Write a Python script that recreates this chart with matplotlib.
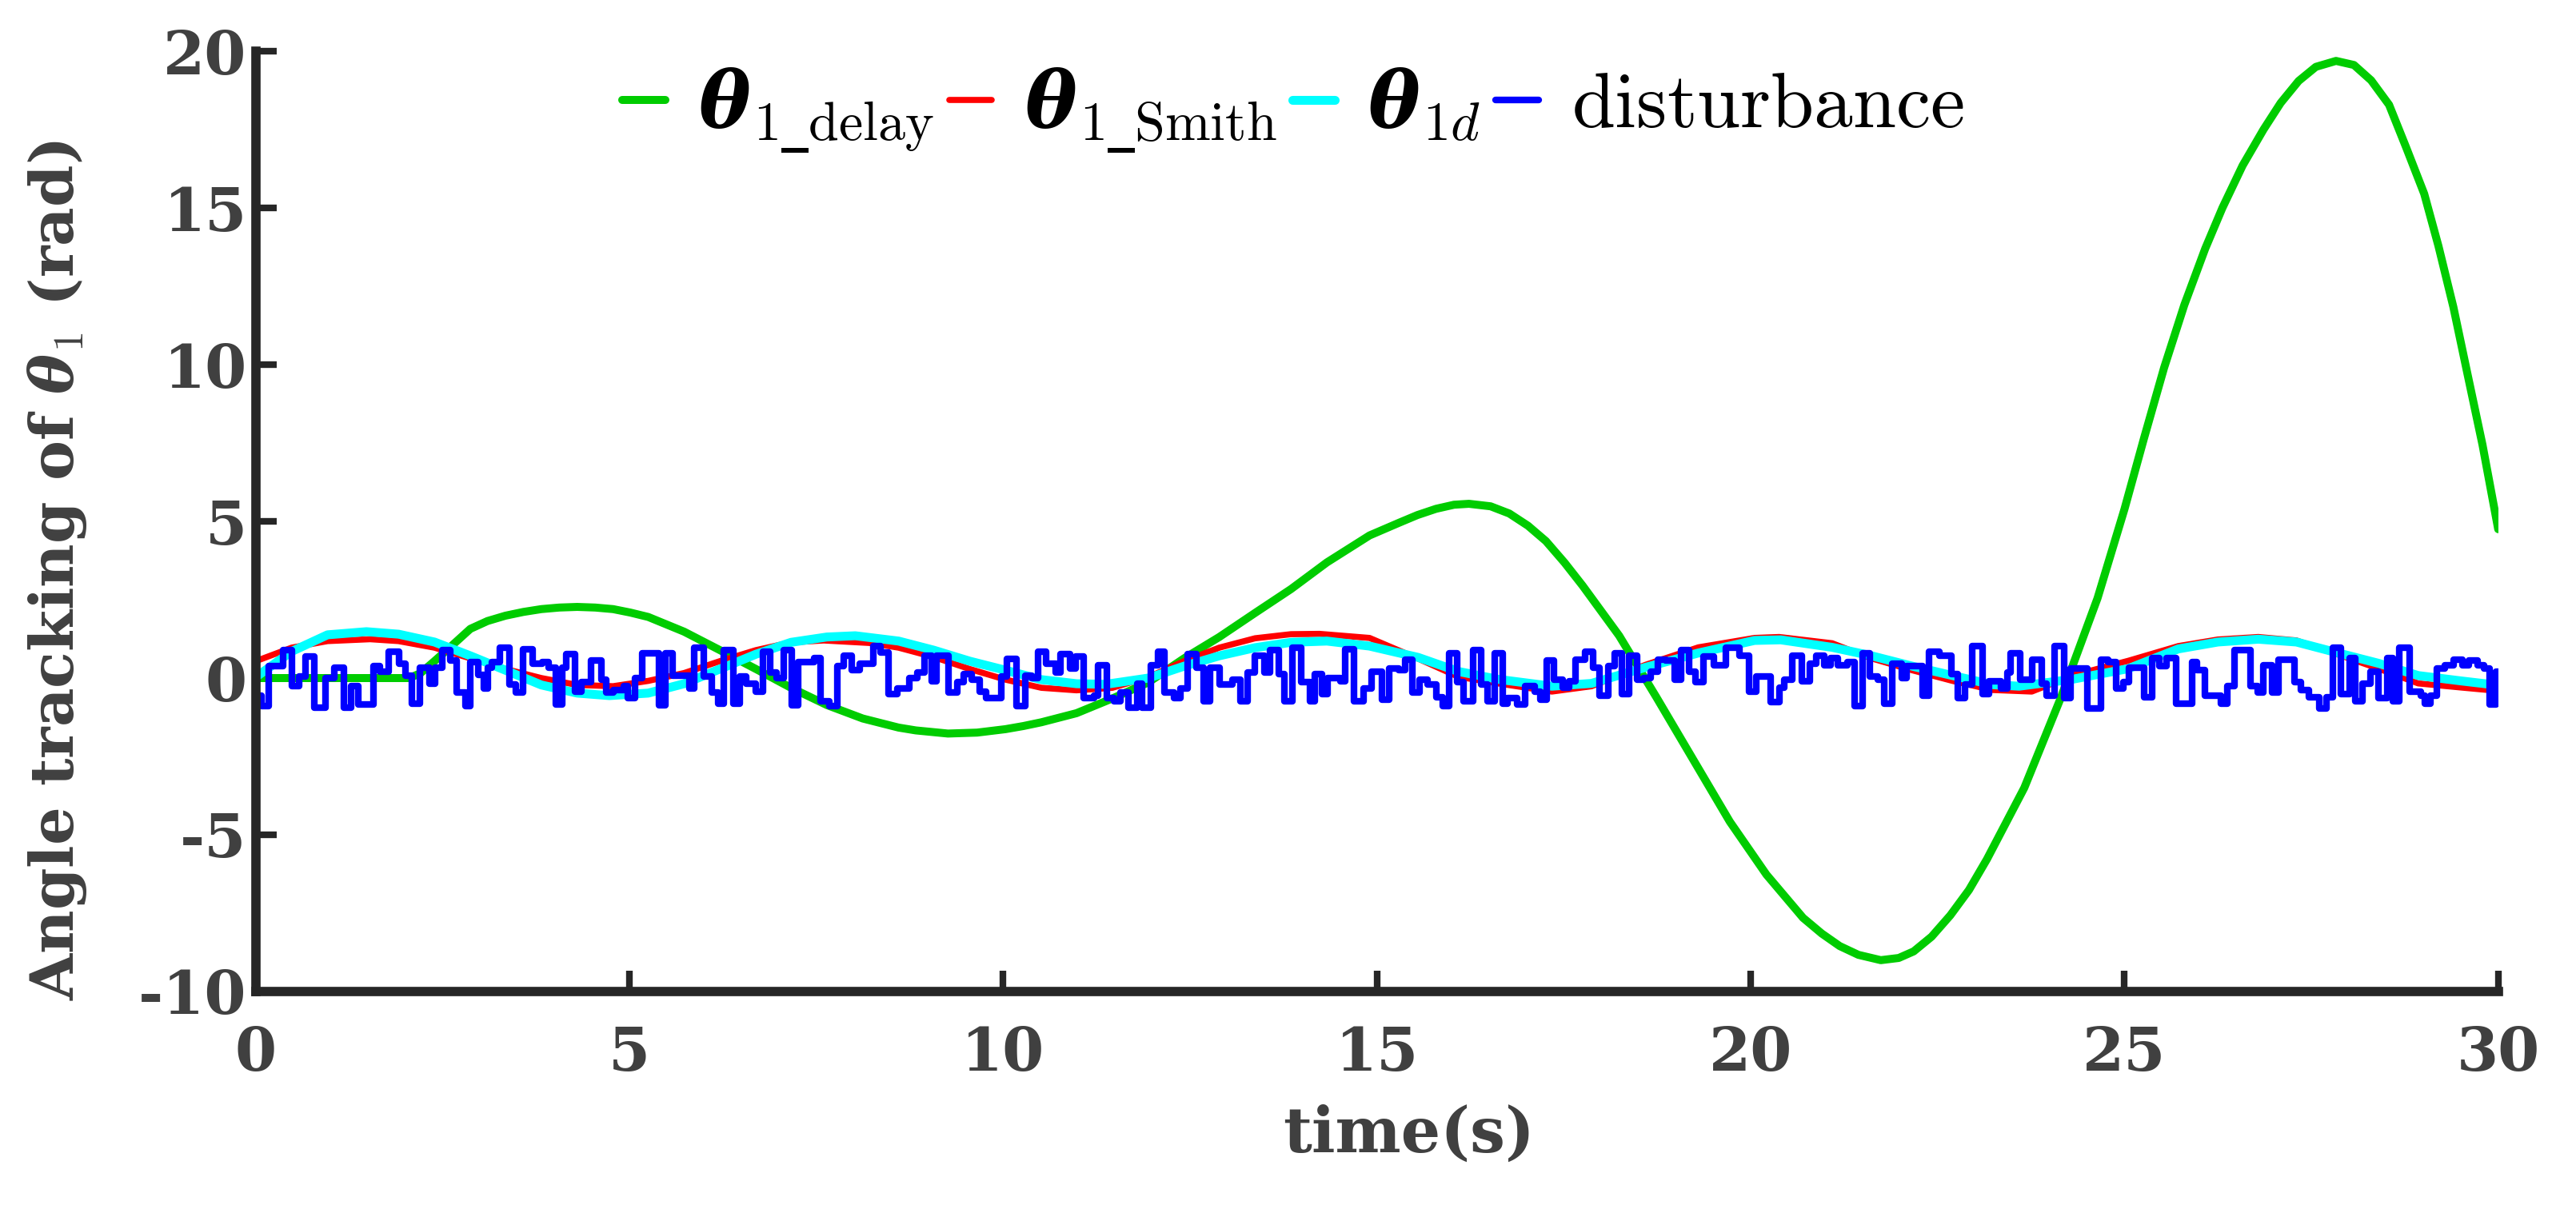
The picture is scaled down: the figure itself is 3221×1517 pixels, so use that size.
import matplotlib
matplotlib.use("Agg")
import matplotlib.pyplot as plt

# ---------------- data ----------------
x_ticks = [0, 5, 10, 15, 20, 25, 30]
x_tick_labels = ["0", "5", "10", "15", "20", "25", "30"]
y_ticks = [-10, -5, 0, 5, 10, 15, 20]
y_tick_labels = ["-10", "-5", "0", "5", "10", "15", "20"]

green_t = [0, 1.0, 2.05, 2.2, 2.39, 2.63, 2.87, 3.10, 3.34, 3.58, 3.82, 4.06, 4.30,
           4.54, 4.78, 5.01, 5.25, 5.73, 6.21, 6.69, 7.16, 7.64, 8.12, 8.60, 8.83,
           9.26, 9.65, 10.03, 10.27, 10.51, 10.98, 11.46, 11.94, 12.42, 12.89, 13.37,
           13.85, 14.33, 14.90, 15.29, 15.54, 15.79, 16.03, 16.23, 16.52, 16.77, 17.02,
           17.26, 17.51, 17.75, 18.24, 18.74, 19.23, 19.72, 20.21, 20.70, 20.95, 21.19,
           21.44, 21.74, 21.98, 22.18, 22.42, 22.67, 22.92, 23.16, 23.66, 24.15, 24.64,
           25.0, 25.26, 25.53, 25.80, 26.08, 26.31, 26.58, 26.86, 27.09, 27.33, 27.56,
           27.83, 28.07, 28.30, 28.54, 28.77, 29.01, 29.20, 29.40, 29.59, 29.79, 29.95,
           30.0]
green_v = [0, 0, 0, 0.15, 0.54, 1.05, 1.57, 1.82, 1.99, 2.11, 2.20, 2.25, 2.27,
           2.25, 2.20, 2.09, 1.95, 1.48, 0.89, 0.29, -0.31, -0.86, -1.29, -1.58, -1.67,
           -1.77, -1.74, -1.63, -1.53, -1.41, -1.12, -0.65, -0.14, 0.63, 1.31, 2.08,
           2.84, 3.69, 4.55, 4.95, 5.2, 5.4, 5.53, 5.56, 5.48, 5.25, 4.86,
           4.37, 3.68, 2.95, 1.35, -0.62, -2.6, -4.58, -6.27, -7.65, -8.15, -8.55,
           -8.83, -9.0, -8.93, -8.72, -8.25, -7.57, -6.76, -5.78, -3.5, -0.62, 2.55,
           5.39, 7.64, 9.9, 11.9, 13.7, 15.0, 16.35, 17.5, 18.35, 19.05, 19.5,
           19.69, 19.56, 19.07, 18.29, 16.92, 15.45, 13.79, 11.84, 9.69, 7.44, 5.39,
           4.75]

red_t = [0, 0.48, 0.96, 1.53, 1.91, 2.39, 2.87, 3.34, 3.82, 4.30, 4.78, 5.25, 5.73,
         6.21, 6.69, 7.16, 7.60, 8.21, 8.60, 9.07, 9.55, 10.03, 10.51, 10.98, 11.46,
         11.94, 12.42, 12.89, 13.37, 13.85, 14.23, 14.90, 15.55, 16.09, 16.62, 17.34,
         17.87, 18.59, 19.30, 20.05, 20.38, 21.09, 21.60, 22.16, 22.70, 23.23, 23.76,
         24.30, 25.05, 25.72, 26.25, 26.79, 27.30, 27.86, 28.40, 28.93, 29.50, 30.0]
red_v = [0.54, 0.97, 1.18, 1.24, 1.18, 0.97, 0.63, 0.29, 0.0, -0.22, -0.26, -0.09, 0.16,
         0.54, 0.89, 1.14, 1.20, 1.12, 0.97, 0.67, 0.29, -0.05, -0.31, -0.39, -0.31,
         0.03, 0.54, 0.97, 1.27, 1.40, 1.41, 1.28, 0.62, 0.04, -0.17, -0.43,
         -0.26, 0.42, 0.98, 1.28, 1.31, 1.11, 0.64, 0.25, -0.09, -0.38, -0.43,
         0.08, 0.55, 1.02, 1.23, 1.31, 1.20, 0.75, 0.30, -0.17, -0.30, -0.41]

cyan_t = [0, 0.48, 0.96, 1.48, 1.91, 2.39, 2.87, 3.34, 3.82, 4.30, 4.73, 5.25, 5.73,
          6.21, 6.69, 7.16, 7.64, 8.02, 8.60, 9.07, 9.55, 10.03, 10.51, 10.98, 11.37,
          11.94, 12.42, 12.89, 13.37, 13.85, 14.33, 14.90, 15.55, 16.09, 16.62, 17.34,
          17.87, 18.59, 19.30, 20.05, 20.40, 21.09, 21.60, 22.16, 22.70, 23.23, 23.59,
          24.30, 25.05, 25.72, 26.25, 26.79, 27.30, 27.86, 28.40, 28.93, 29.50, 30.0]
cyan_v = [0.03, 0.85, 1.38, 1.48, 1.40, 1.15, 0.71, 0.25, -0.22, -0.48, -0.56, -0.48, -0.18,
          0.29, 0.76, 1.14, 1.31, 1.35, 1.18, 0.89, 0.54, 0.25, -0.05, -0.18, -0.20,
          0.0, 0.38, 0.71, 0.97, 1.14, 1.18, 1.02, 0.66, 0.21, -0.04, -0.26,
          -0.17, 0.34, 0.80, 1.20, 1.22, 0.98, 0.72, 0.38, 0.08, -0.21, -0.26,
          -0.04, 0.30, 0.93, 1.15, 1.24, 1.15, 0.80, 0.47, 0.08, -0.09, -0.23]

# disturbance: start time of each held level and its value
dist_t = [0.00, 0.08, 0.17, 0.37, 0.48, 0.58, 0.66, 0.78, 0.93, 1.05, 1.18, 1.28, 1.37,
          1.57, 1.66, 1.78, 1.92, 2.00, 2.09, 2.19, 2.32, 2.40, 2.49, 2.60, 2.69, 2.80,
          2.87, 2.98, 3.05, 3.10, 3.16, 3.26, 3.39, 3.48, 3.57, 3.70, 3.83, 3.92, 4.01,
          4.10, 4.15, 4.27, 4.36, 4.48, 4.62, 4.69, 4.78, 4.92, 4.98,
          5.07, 5.17, 5.39, 5.48, 5.58, 5.80, 5.87, 5.99, 6.10, 6.19, 6.26, 6.39, 6.47,
          6.56, 6.69, 6.78, 6.88, 6.97, 7.06, 7.17, 7.26, 7.47, 7.56, 7.67, 7.78, 7.87,
          7.97, 8.08, 8.26, 8.36, 8.47, 8.58, 8.74, 8.85, 8.95, 9.04, 9.11, 9.27, 9.38,
          9.47, 9.58, 9.68, 9.77, 9.97,
          10.05, 10.18, 10.29, 10.38, 10.47, 10.57, 10.70, 10.77, 10.89, 10.97, 11.08,
          11.21, 11.27, 11.39, 11.48, 11.57, 11.68, 11.79, 11.86, 11.97, 12.07, 12.16,
          12.28, 12.37, 12.47, 12.58, 12.68, 12.77, 12.89, 13.07, 13.17, 13.27, 13.37,
          13.49, 13.57, 13.69, 13.76, 13.87, 13.99, 14.10, 14.17, 14.26, 14.34, 14.51,
          14.57, 14.69, 14.82, 14.93,
          15.07, 15.16, 15.29, 15.38, 15.47, 15.57, 15.68, 15.79, 15.88, 15.97, 16.07,
          16.16, 16.29, 16.39, 16.48, 16.57, 16.68, 16.75, 16.87, 16.98, 17.11, 17.18,
          17.27, 17.37, 17.48, 17.57, 17.66, 17.78, 17.89, 17.98, 18.09, 18.18, 18.28,
          18.37, 18.48, 18.57, 18.66, 18.76, 18.87, 18.98, 19.07, 19.17, 19.26, 19.37,
          19.51, 19.67, 19.85, 19.98,
          20.07, 20.27, 20.38, 20.45, 20.56, 20.68, 20.79, 20.88, 20.98, 21.07, 21.16,
          21.29, 21.39, 21.50, 21.59, 21.70, 21.79, 21.89, 22.02, 22.09, 22.30, 22.39,
          22.52, 22.68, 22.77, 22.87, 22.96, 23.10, 23.19, 23.35, 23.43, 23.48, 23.60,
          23.76, 23.89, 23.96, 24.07, 24.19, 24.28, 24.50, 24.69, 24.78, 24.89, 24.99,
          25.06, 25.26, 25.37, 25.47, 25.56, 25.69, 25.90, 25.97, 26.08, 26.29, 26.38,
          26.47, 26.69, 26.78, 26.86, 26.97, 27.06, 27.27, 27.36, 27.47, 27.61, 27.70,
          27.79, 27.90, 28.01, 28.09, 28.18, 28.29, 28.40, 28.52, 28.59, 28.68, 28.81,
          28.97, 29.02, 29.09, 29.18, 29.29, 29.40, 29.52, 29.61, 29.72, 29.81, 29.88,
          29.97, 30.0]
dist_v = [-0.55, -0.90, 0.38, 0.89, -0.26, 0.04, 0.68, -0.94, 0.00, 0.34, -0.94, -0.26, -0.85,
          0.38, 0.21, 0.85, 0.45, 0.08, -0.81, 0.34, -0.17, 0.34, 0.89, 0.55, -0.47, -0.90,
          0.51, 0.10, -0.34, 0.34, 0.51, 0.98, -0.21, -0.47, 0.93, 0.47, 0.51, 0.34, -0.85,
          0.34, 0.77, -0.43, -0.13, 0.55, -0.04, -0.47, -0.38, -0.26, -0.64,
          0.00, 0.80, -0.86, 0.80, 0.08, -0.34, 0.98, 0.04, -0.47, -0.81, 0.89, -0.81, 0.04,
          -0.17, -0.43, 0.85, 0.17, 0.00, 0.89, -0.86, 0.51, 0.64, -0.73, -0.90, 0.38, 0.72,
          0.25, 0.47, 1.02, 0.81, -0.51, -0.34, 0.00, 0.17, 0.72, -0.09, 0.72, -0.47, -0.13,
          0.13, -0.04, -0.43, -0.64, 0.04,
          0.62, -0.90, 0.08, 0.00, 0.85, 0.47, 0.17, 0.76, 0.30, 0.68, -0.64,
          -0.55, 0.42, -0.64, -0.73, -0.47, -0.94, -0.17, -0.94, 0.42, 0.85, -0.47,
          -0.64, -0.34, 0.76, 0.34, -0.73, 0.34, -0.21, -0.04, -0.73, 0.17, 0.72,
          0.17, 0.89, 0.13, -0.73, 0.98, -0.13, -0.73, 0.13, -0.51, 0.00, -0.09,
          0.93, -0.73, -0.34, 0.21,
          -0.68, 0.30, 0.25, 0.59, -0.47, -0.04, -0.21, -0.60, -0.90, 0.80, -0.13,
          -0.73, 0.89, -0.21, -0.73, 0.80, -0.81, -0.64, -0.85, -0.26, -0.43, -0.68,
          0.55, -0.04, -0.30, -0.09, 0.59, 0.85, 0.34, -0.55, 0.38, 0.80, -0.51,
          0.72, -0.04, 0.00, 0.21, 0.59, 0.55, -0.04, 0.89, 0.21, -0.13, 0.68,
          0.42, 0.98, 0.72, -0.43,
          0.04, -0.77, -0.30, -0.04, 0.72, -0.09, 0.47, 0.72, 0.42, 0.64, 0.42,
          0.51, -0.90, 0.80, 0.04, -0.04, -0.81, 0.47, 0.00, 0.38, -0.55, 0.85,
          0.72, 0.13, -0.64, -0.21, 1.02, -0.51, -0.09, -0.34, 0.17, 0.80, -0.04,
          0.59, -0.17, -0.55, 1.02, -0.64, 0.30, -0.98, 0.59, 0.51, -0.34, -0.13,
          0.34, -0.60, 0.64, 0.38, 0.64, -0.81, 0.51, 0.25, -0.55, -0.81, -0.26,
          0.89, -0.26, -0.47, 0.42, -0.47, 0.59, -0.13, -0.38, -0.60, -0.98, -0.60,
          0.98, -0.51, 0.64, -0.73, -0.17, 0.21, -0.64, 0.64, -0.73, 0.98, -0.43,
          -0.55, -0.81, -0.55, 0.30, 0.42, 0.59, 0.42, 0.55, 0.42, 0.30, -0.85,
          0.21, 0.21]

legend_labels = [r"$\mathbfit{\theta}_{\mathrm{1}\mathsf{\_}\mathrm{delay}}$",
                 r"$\mathbfit{\theta}_{\mathrm{1}\mathsf{\_}\mathrm{Smith}}$",
                 r"$\mathbfit{\theta}_{\mathrm{1}d}$",
                 r"$\mathrm{disturbance}$"]
x_label = "time(s)"
y_label = r"Angle tracking of $\mathbfit{\theta}_{\mathrm{1}}$ (rad)"

# ---------------- styling ----------------
plt.rcParams["mathtext.fontset"] = "custom"
plt.rcParams["mathtext.rm"] = "cmr10"
plt.rcParams["mathtext.it"] = "cmmi10"
plt.rcParams["mathtext.bf"] = "cmb10"
plt.rcParams["mathtext.sf"] = "DejaVu Serif:bold"
plt.rcParams["mathtext.bfit"] = "DejaVu Serif:italic:bold"
plt.rcParams["font.family"] = ["DejaVu Serif"]

tick_color = "#404040"
axis_color = "#262626"

fig = plt.figure(figsize=(32.21, 15.17), dpi=100)
ax = fig.add_axes([0.0993, 0.1826, 0.8705, 0.7752])

ax.plot(green_t, green_v, color="#00CC00", lw=7.2, solid_capstyle="round",
        solid_joinstyle="round", label=legend_labels[0])
ax.plot(red_t, red_v, color="#FF0000", lw=5.5, solid_capstyle="round",
        solid_joinstyle="round", label=legend_labels[1])
ax.plot(cyan_t, cyan_v, color="#00FFFF", lw=8.0, solid_capstyle="round",
        solid_joinstyle="round", label=legend_labels[2])
ax.plot(dist_t, dist_v, color="#0000FF", lw=6.0, drawstyle="steps-post",
        solid_capstyle="round", solid_joinstyle="round", label=legend_labels[3])

ax.set_xlim(0, 30)
ax.set_ylim(-10, 20)
ax.set_xticks(x_ticks)
ax.set_xticklabels(x_tick_labels)
ax.set_yticks(y_ticks)
ax.set_yticklabels(y_tick_labels)

for s in ["top", "right"]:
    ax.spines[s].set_visible(False)
for s in ["left", "bottom"]:
    ax.spines[s].set_linewidth(8.4)
    ax.spines[s].set_color(axis_color)

ax.tick_params(axis="both", direction="in", length=19, width=6, color=axis_color,
               labelsize=54, labelcolor=tick_color)
ax.tick_params(axis="x", pad=30)
ax.tick_params(axis="y", pad=8)
for lab in ax.get_xticklabels() + ax.get_yticklabels():
    lab.set_fontweight("bold")
    lab.set_family("DejaVu Serif")

xl = ax.set_xlabel(x_label, fontsize=56, fontweight="bold", color=tick_color)
ax.xaxis.set_label_coords(0.514, -0.152)
xl.set_va("center")
yl = ax.set_ylabel(y_label, fontsize=54, fontweight="bold", color=tick_color)
ax.yaxis.set_label_coords(-0.0884, 0.448)
yl.set_va("center")

leg = ax.legend(loc="center", bbox_to_anchor=(0.4626, 0.937), ncol=4, frameon=False,
                fontsize=70, handlelength=0.55, handletextpad=0.42, columnspacing=0.2,
                borderpad=0, borderaxespad=0)

fig.savefig("out.png", dpi=100)
